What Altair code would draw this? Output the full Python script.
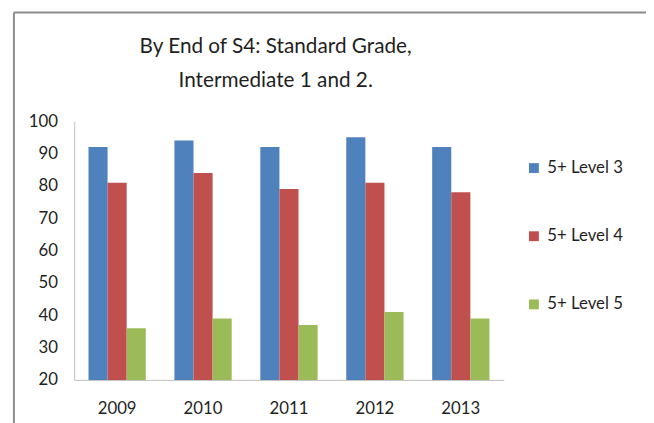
import altair as alt
import pandas as pd

years = ["2009", "2010", "2011", "2012", "2013"]
series = ["5+ Level 3", "5+ Level 4", "5+ Level 5"]
level3 = [92, 94, 92, 95, 92]
level4 = [81, 84, 79, 81, 78]
level5 = [36, 39, 37, 41, 39]
colors = ["#4F81BD", "#C0504D", "#9BBB59"]
title_lines = ["By End of S4: Standard Grade,", "Intermediate 1 and 2."]
y_ticks = [20, 30, 40, 50, 60, 70, 80, 90, 100]

rows = []
for i, yr in enumerate(years):
    for s, vals in zip(series, [level3, level4, level5]):
        rows.append({"year": yr, "series": s, "value": vals[i]})
df = pd.DataFrame(rows)

FONT = "Lato"
TXT = "#1f1f1f"
AXC = "#BFBFBF"

bars = alt.Chart(df).mark_bar().encode(
    x=alt.X("year:N", sort=years, title=None,
            scale=alt.Scale(paddingInner=1/3, paddingOuter=1/6),
            axis=alt.Axis(labelAngle=0, ticks=False, grid=False, domainColor=AXC,
                          labelPadding=21, labelFontSize=17, labelColor=TXT, labelFont=FONT)),
    xOffset=alt.XOffset("series:N", sort=series,
                        scale=alt.Scale(paddingInner=0, paddingOuter=0)),
    y=alt.Y("value:Q", title=None,
            scale=alt.Scale(domain=[20, 100], zero=False, nice=False),
            axis=alt.Axis(values=y_ticks, ticks=False, grid=False, domainColor=AXC,
                          labelPadding=17, labelFontSize=17, labelColor=TXT, labelFont=FONT)),
    y2=alt.datum(20),
    color=alt.Color("series:N", sort=series,
                    scale=alt.Scale(domain=series, range=colors),
                    legend=alt.Legend(title=None, orient="none", legendX=457, legendY=39,
                                      symbolType="square", symbolSize=100, symbolStrokeWidth=0,
                                      rowPadding=51, labelFontSize=17, labelFont=FONT,
                                      labelColor=TXT, labelOffset=5, padding=0)),
)

frame_df = pd.DataFrame({"k": [0]})
left_border = alt.Chart(frame_df).mark_rule(color="#8c8c8c", strokeWidth=2).encode(
    x=alt.value(-61), y=alt.value(-110), y2=alt.value(310))
top_border = alt.Chart(frame_df).mark_rule(color="#8c8c8c", strokeWidth=2).encode(
    x=alt.value(-61), x2=alt.value(580), y=alt.value(-110))

title1 = alt.Chart(frame_df).mark_text(
    font=FONT, fontSize=21, color=TXT, align="center", baseline="middle"
).encode(x=alt.value(204), y=alt.value(-75), text=alt.value(title_lines[0]))
title2 = alt.Chart(frame_df).mark_text(
    font=FONT, fontSize=21, color=TXT, align="center", baseline="middle"
).encode(x=alt.value(204), y=alt.value(-41), text=alt.value(title_lines[1]))

chart = alt.layer(bars, left_border, top_border, title1, title2).properties(
    width=435, height=262,
    autosize=alt.AutoSizeParams(type="none"),
    padding={"left": 67, "top": 112, "right": 144, "bottom": 41},
).configure_view(stroke=None)

chart.save("out.html", embed_options={"renderer": "svg", "actions": False})
